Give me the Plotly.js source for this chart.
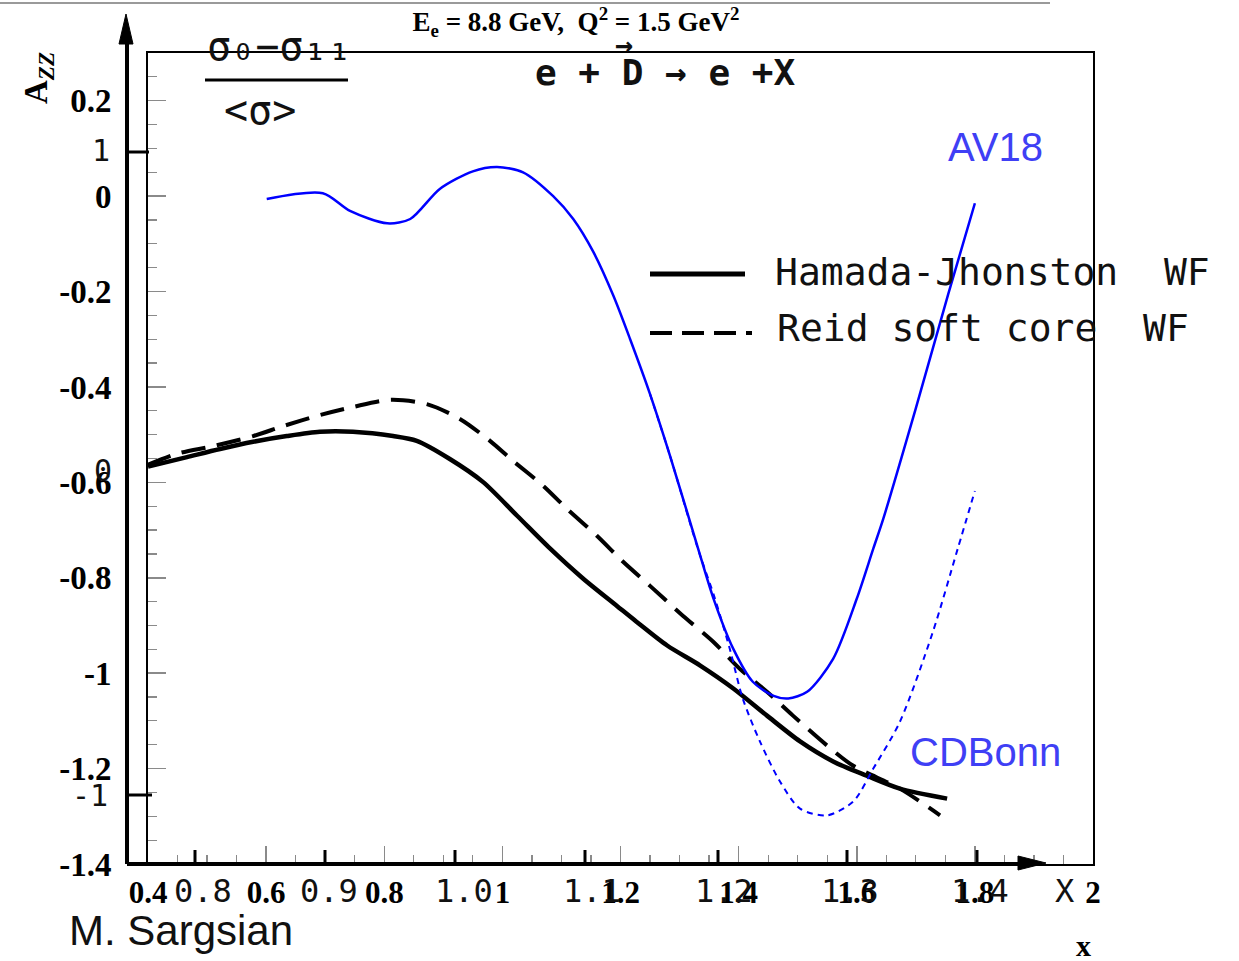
<!DOCTYPE html>
<html>
<head>
<meta charset="utf-8">
<script src="https://cdn.plot.ly/plotly-3.0.1.min.js"></script>
<style>body{margin:0;padding:0;background:#fff;}#chart{width:1239px;height:961px;}</style>
</head>
<body>
<div id="chart"></div>
<script>
// ---- data ----
const av18X = [0.601,0.696,0.742,0.805,0.844,0.894,0.950,0.991,1.035,1.086,1.120,1.154,1.188,1.216,1.250,1.284,1.330,1.357,1.391,1.424,1.458,1.484,1.516,1.560,1.600,1.628,1.645,1.700,1.755,1.800];
const av18Y = [-0.006,0.006,-0.031,-0.057,-0.048,0.015,0.052,0.061,0.050,0.000,-0.048,-0.117,-0.209,-0.299,-0.415,-0.545,-0.733,-0.842,-0.949,-1.018,-1.047,-1.053,-1.039,-0.970,-0.844,-0.739,-0.676,-0.445,-0.205,-0.015];

const cdbonnX = [1.250,1.284,1.330,1.360,1.385,1.407,1.436,1.470,1.504,1.550,1.594,1.628,1.673,1.729,1.771,1.800];
const cdbonnY = [-0.415,-0.545,-0.735,-0.844,-0.949,-1.053,-1.143,-1.227,-1.284,-1.298,-1.269,-1.200,-1.102,-0.913,-0.739,-0.618];

const hamadaX = [0.400,0.466,0.522,0.578,0.635,0.691,0.747,0.815,0.855,0.911,0.967,1.025,1.081,1.137,1.194,1.227,1.279,1.335,1.391,1.448,1.504,1.560,1.617,1.673,1.753];
const hamadaY = [-0.567,-0.547,-0.530,-0.515,-0.503,-0.494,-0.494,-0.503,-0.513,-0.551,-0.599,-0.670,-0.739,-0.802,-0.859,-0.892,-0.942,-0.984,-1.032,-1.089,-1.143,-1.185,-1.215,-1.242,-1.263];

const reidX = [0.400,0.449,0.510,0.578,0.629,0.691,0.747,0.810,0.872,0.928,0.979,1.018,1.069,1.109,1.160,1.204,1.250,1.306,1.357,1.402,1.448,1.492,1.550,1.594,1.673,1.741];
const reidY = [-0.563,-0.540,-0.524,-0.503,-0.482,-0.459,-0.442,-0.427,-0.436,-0.467,-0.513,-0.555,-0.607,-0.655,-0.712,-0.766,-0.817,-0.880,-0.934,-0.991,-1.039,-1.089,-1.152,-1.194,-1.242,-1.298];

const xTickVals = [0.4,0.6,0.8,1.0,1.2,1.4,1.6,1.8,2.0];
const xTickText = ["0.4","0.6","0.8","1","1.2","1.4","1.6","1.8","2"];
const yTickVals = [0.2,0,-0.2,-0.4,-0.6,-0.8,-1.0,-1.2,-1.4];
const yTickText = ["0.2","0","-0.2","-0.4","-0.6","-0.8","-1","-1.2","-1.4"];

const handXLabels = ["0.8","0.9","1.0","1.1","1.2","1.3","1.4","X"];
const handYLabels = ["1","0","-1"];
const legendLabels = ["Hamada-Jhonston  WF","Reid soft core  WF"];

// ---- layout helpers (pixel -> paper) ----
const L = 148, T = 53, PW = 945, PH = 811;
const px = v => (v - L) / PW;
const py = v => (T + PH - v) / PH;

const traces = [
  {x: hamadaX, y: hamadaY, mode: 'lines', line: {color: '#000', width: 4.5, shape: 'spline', smoothing: 0.8}, name: 'Hamada-Jhonston WF'},
  {x: reidX, y: reidY, mode: 'lines', line: {color: '#000', width: 4, dash: '24px,12px', shape: 'spline', smoothing: 0.8}, name: 'Reid soft core WF'},
  {x: cdbonnX, y: cdbonnY, mode: 'lines', line: {color: '#0000ff', width: 2, dash: '6px,5px', shape: 'spline', smoothing: 0.8}, name: 'CDBonn'},
  {x: av18X, y: av18Y, mode: 'lines', line: {color: '#0000ff', width: 2.5, shape: 'spline', smoothing: 0.8}, name: 'AV18'}
];

const serifBold = {family: 'Liberation Serif, Times New Roman, serif', weight: 'bold', color: '#000'};
const hand = {family: 'DejaVu Sans Mono, monospace', color: '#111'};

const annotations = [];
function ann(text, x, y, font, extra) {
  annotations.push(Object.assign({text: text, xref: 'paper', yref: 'paper', x: px(x), y: py(y), showarrow: false, xanchor: 'center', yanchor: 'middle', font: font}, extra || {}));
}
// printed axis titles
ann('A<sub><i>ZZ</i></sub>', 38, 78, Object.assign({size: 33}, serifBold), {textangle: -90});
ann('x', 1083, 946, Object.assign({size: 30}, serifBold));
// hand-drawn annotations
ann('σ₀−σ₁₁', 205, 46, Object.assign({size: 40}, hand), {xanchor: 'left'});
ann('&lt;σ&gt;', 260, 110, Object.assign({size: 40}, hand));
ann('e + D → e +X', 533, 72, Object.assign({size: 36, weight: 'bold'}, hand), {xanchor: 'left'});
ann('→', 624, 44, Object.assign({size: 30, weight: 'bold'}, hand));
ann(legendLabels[0], 773, 272, Object.assign({size: 38}, hand), {xanchor: 'left'});
ann(legendLabels[1], 775, 328, Object.assign({size: 38}, hand), {xanchor: 'left'});
const handXPos = [203, 329, 464, 592, 724, 850, 980, 1064];
handXLabels.forEach((t, i) => ann(t, handXPos[i], 891, Object.assign({size: 32}, hand)));
const handYPos = [[101, 150], [103, 470], [90, 795]];
handYLabels.forEach((t, i) => ann(t, handYPos[i][0], handYPos[i][1], Object.assign({size: 30}, hand)));
// blue curve labels and author
const calib = {family: 'Liberation Sans, Arial, sans-serif', size: 40, color: '#3f3ff5'};
ann('AV18', 995, 147, calib);
ann('CDBonn', 985, 752, calib);
ann('M. Sargsian', 67, 930, {family: 'Liberation Sans, Arial, sans-serif', size: 42, color: '#111'}, {xanchor: 'left'});

const shapes = [];
function seg(x0, y0, x1, y1, w, color, dash) {
  shapes.push({type: 'line', xref: 'paper', yref: 'paper', x0: px(x0), y0: py(y0), x1: px(x1), y1: py(y1), line: {color: color || '#000', width: w, dash: dash || 'solid'}});
}
function tri(a, b, c) {
  const f = p => px(p[0]) + ',' + py(p[1]);
  shapes.push({type: 'path', xref: 'paper', yref: 'paper', path: 'M' + f(a) + ' L' + f(b) + ' L' + f(c) + ' Z', fillcolor: '#000', line: {color: '#000', width: 1}});
}
// thin grey rule at very top
seg(0, 3, 1050, 3, 2, '#9a9a9a');
// hand-drawn axes
seg(127, 864, 127, 30, 4);
tri([126, 14], [119, 44], [133, 44]);
seg(127, 864, 1030, 864, 4);
tri([1046, 863], [1018, 856], [1018, 870]);
// hand-drawn y ticks
seg(127, 152, 149, 152, 3);
seg(127, 795, 152, 795, 3);
// hand-drawn x ticks
[195, 325, 455, 585, 718, 847, 977].forEach(x => seg(x, 850, x, 864, 3));
// fraction bar
seg(205, 80, 348, 80, 3);
// hand legend samples
seg(650, 274, 745, 274, 5);
seg(650, 333, 752, 333, 4, '#000', '22px,10px');

const axisCommon = {
  showgrid: false, zeroline: false, showline: true, mirror: true, linecolor: '#000', linewidth: 2,
  ticks: 'inside', ticklen: 18, tickwidth: 1.5, tickcolor: '#8a8a8a', tickmode: 'array'
};

const layout = {
  width: 1239, height: 961,
  margin: {l: L, r: 1239 - L - PW, t: T, b: 961 - T - PH},
  paper_bgcolor: '#fff', plot_bgcolor: 'rgba(0,0,0,0)',
  showlegend: false,
  title: {text: 'E<sub>e</sub> = 8.8 GeV,  Q<sup>2</sup> = 1.5 GeV<sup>2</sup>', x: 576 / 1239, xanchor: 'center', y: 1 - 22 / 961, yanchor: 'middle', font: Object.assign({size: 27}, serifBold)},
  xaxis: Object.assign({}, axisCommon, {range: [0.4, 2.0], tickvals: xTickVals, ticktext: xTickText, ticklabelstandoff: 0,
    tickfont: Object.assign({size: 31}, serifBold),
    minor: {ticks: 'inside', ticklen: 9, dtick: 0.05, tickcolor: '#8a8a8a', tickwidth: 1.2}}),
  yaxis: Object.assign({}, axisCommon, {range: [-1.4, 0.3], tickvals: yTickVals, ticktext: yTickText, ticklabelstandoff: 28,
    tickfont: Object.assign({size: 33}, serifBold),
    minor: {ticks: 'inside', ticklen: 9, dtick: 0.05, tickcolor: '#8a8a8a', tickwidth: 1.2}}),
  shapes: shapes,
  annotations: annotations
};

Plotly.newPlot('chart', traces, layout, {displayModeBar: false, staticPlot: true});
</script>
</body>
</html>
